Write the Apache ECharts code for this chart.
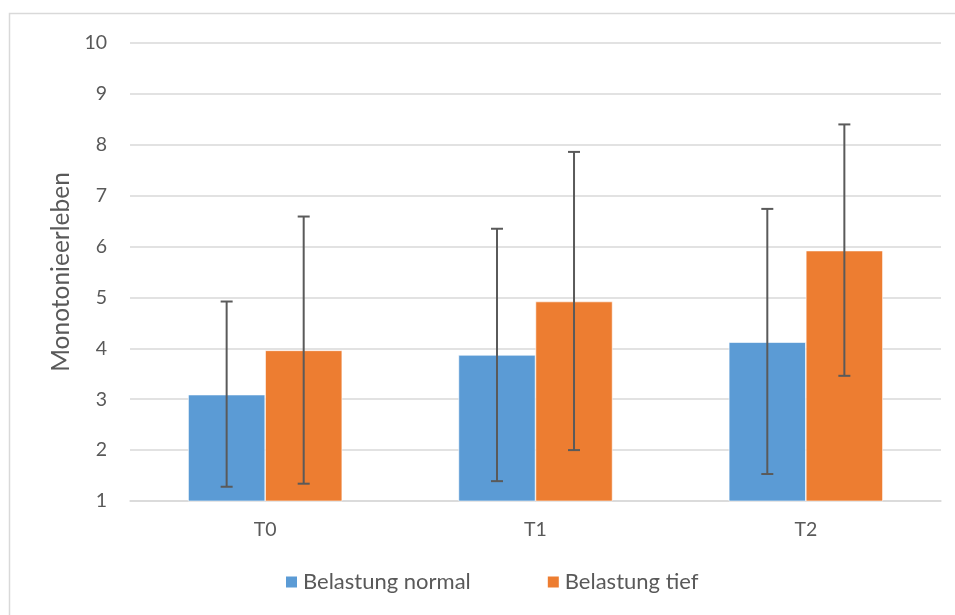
<!DOCTYPE html>
<html>
<head>
<meta charset="utf-8">
<script src="https://cdn.jsdelivr.net/npm/echarts@6/dist/echarts.min.js"></script>
<style>
html,body{margin:0;padding:0;background:#fff;}
#chart{width:955px;height:615px;}
</style>
</head>
<body>
<div id="chart"></div>
<script>
const categories = ['T0', 'T1', 'T2'];
const seriesNames = ['Belastung normal', 'Belastung tief'];
const normalValues = [3.09, 3.87, 4.12];
const tiefValues = [3.96, 4.92, 5.92];
const normalLow = [1.28, 1.39, 1.53];
const normalHigh = [4.92, 6.35, 6.74];
const tiefLow = [1.34, 2.00, 3.46];
const tiefHigh = [6.59, 7.86, 8.40];
const yTicks = [1, 2, 3, 4, 5, 6, 7, 8, 9, 10];

const FONT = 'Lato';
const TXT = '#595959';
const BAR_FRAC = 0.285;

function errData(low, high) {
  return categories.map((c, i) => [i, low[i], high[i]]);
}
function errSeries(low, high, side) {
  return {
    type: 'custom',
    silent: true,
    z: 10,
    data: errData(low, high),
    encode: { x: 0, y: [1, 2] },
    renderItem: function (params, api) {
      const idx = api.value(0);
      const lo = api.coord([idx, api.value(1)]);
      const hi = api.coord([idx, api.value(2)]);
      const band = api.size([1, 0])[0];
      const x = lo[0] + side * band * BAR_FRAC / 2;
      const cap = 6;
      const style = { stroke: '#5a5a5a', lineWidth: 2 };
      return {
        type: 'group',
        children: [
          { type: 'line', shape: { x1: x, y1: lo[1], x2: x, y2: hi[1] }, style: style },
          { type: 'line', shape: { x1: x - cap, y1: lo[1], x2: x + cap, y2: lo[1] }, style: style },
          { type: 'line', shape: { x1: x - cap, y1: hi[1], x2: x + cap, y2: hi[1] }, style: style }
        ]
      };
    }
  };
}

const chart = echarts.init(document.getElementById('chart'), null, { renderer: 'canvas' });
chart.setOption({
  animation: false,
  textStyle: { fontFamily: FONT },
  graphic: [{
    type: 'rect',
    shape: { x: 9.5, y: 13.5, width: 1000, height: 700 },
    style: { fill: 'none', stroke: '#d9d9d9', lineWidth: 1.5 },
    silent: true, z: -10
  }],
  grid: { left: 130, right: 14, top: 43, bottom: 114 },
  legend: {
    data: seriesNames,
    top: 566,
    left: 279,
    icon: 'rect',
    itemWidth: 13,
    itemHeight: 13,
    itemGap: 75,
    textStyle: { color: TXT, fontSize: 22, fontFamily: FONT }
  },
  xAxis: {
    type: 'category',
    data: categories,
    axisLine: { lineStyle: { color: '#d9d9d9', width: 1.5 } },
    axisTick: { show: false },
    axisLabel: { color: TXT, fontSize: 19.5, fontFamily: FONT, margin: 19 }
  },
  yAxis: {
    type: 'value',
    min: yTicks[0],
    max: yTicks[yTicks.length - 1],
    interval: 1,
    name: 'Monotonieerleben',
    nameLocation: 'middle',
    nameGap: 56,
    nameTextStyle: { color: TXT, fontSize: 24.5, fontFamily: FONT },
    axisLine: { show: false },
    axisTick: { show: false },
    axisLabel: { color: TXT, fontSize: 19.5, fontFamily: FONT, margin: 23 },
    splitLine: { lineStyle: { color: '#d9d9d9', width: 1.5 } }
  },
  series: [
    {
      name: seriesNames[0], type: 'bar', data: normalValues,
      barWidth: (BAR_FRAC * 100) + '%', barGap: '0%',
      itemStyle: { color: '#5b9bd5', borderColor: '#ffffff', borderWidth: 0.6 }
    },
    {
      name: seriesNames[1], type: 'bar', data: tiefValues,
      barWidth: (BAR_FRAC * 100) + '%', barGap: '0%',
      itemStyle: { color: '#ed7d31', borderColor: '#ffffff', borderWidth: 0.6 }
    },
    errSeries(normalLow, normalHigh, -1),
    errSeries(tiefLow, tiefHigh, 1)
  ]
});
</script>
</body>
</html>
